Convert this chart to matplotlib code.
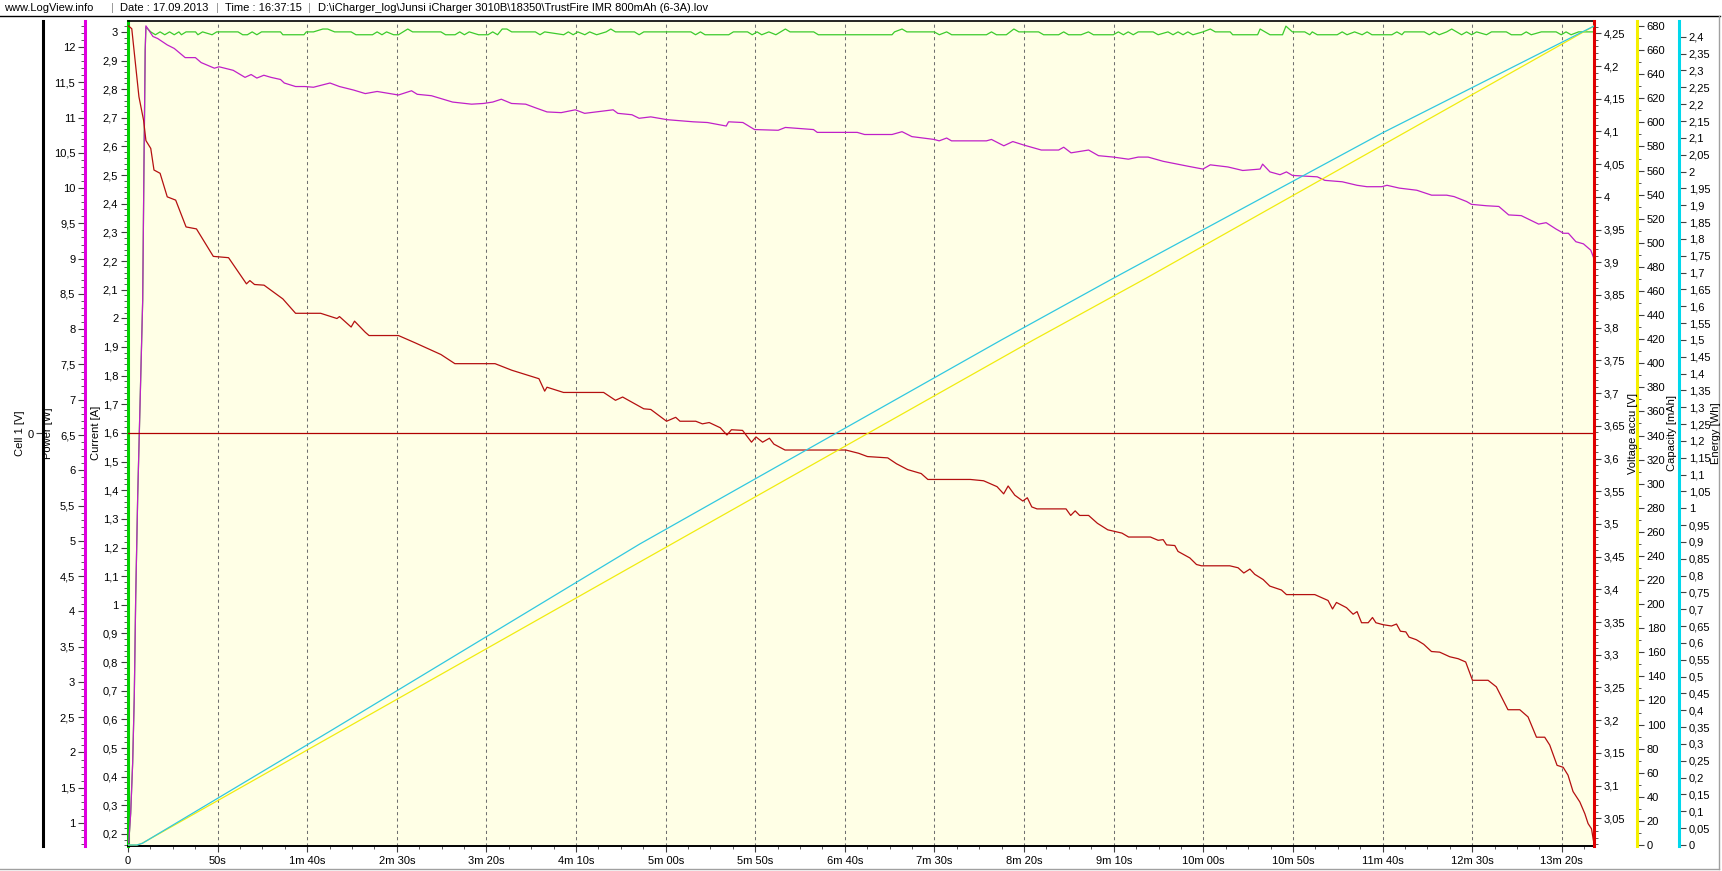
import matplotlib
matplotlib.use('Agg')
import matplotlib.pyplot as plt
from matplotlib.lines import Line2D
from matplotlib.ticker import MultipleLocator, FixedLocator, FuncFormatter

plt.rcParams['font.family'] = ['Liberation Sans', 'DejaVu Sans']

# --- data: (time [s], value) ---
voltage = [(0, 4.262), (2.1, 4.257), (6.1, 4.153), (8.7, 4.117), (10, 4.086), (12.7, 4.074),
           (14.5, 4.041), (17.9, 4.036), (21.9, 4.000), (26.6, 3.995), (32.4, 3.954), (38.2, 3.951),
           (47.6, 3.909), (56.1, 3.907), (66.1, 3.867), (68, 3.872), (70.6, 3.866), (75.9, 3.865),
           (86.4, 3.844), (93.5, 3.822), (107.5, 3.822), (116.6, 3.814), (118, 3.817), (124.5, 3.801),
           (126.4, 3.810), (132.4, 3.793), (134.5, 3.788), (150.9, 3.788), (160.1, 3.777), (174.6, 3.759),
           (182.4, 3.745), (204.8, 3.745), (214.1, 3.735), (229.3, 3.722), (232.5, 3.703), (233.8, 3.709),
           (243, 3.701), (265.4, 3.701), (272, 3.689), (276, 3.694), (287.8, 3.676), (291.7, 3.675),
           (300.5, 3.657), (305.6, 3.663), (308, 3.657), (316.8, 3.657), (320.5, 3.653), (324.3, 3.655),
           (330.5, 3.647), (334.2, 3.636), (336.7, 3.644), (342.9, 3.643), (347.9, 3.625), (350.4, 3.633),
           (354.1, 3.625), (357.9, 3.631), (360.4, 3.622), (366.6, 3.613), (400.5, 3.613), (407.7, 3.608),
           (412.6, 3.603), (423.9, 3.601), (428.8, 3.592), (435.1, 3.583), (442.6, 3.577), (446.3, 3.568),
           (470, 3.568), (477.4, 3.566), (484.9, 3.557), (488.6, 3.546), (491.1, 3.558), (494.8, 3.544),
           (499.3, 3.535), (501.8, 3.540), (504.3, 3.526), (507.2, 3.523), (523.4, 3.523), (526, 3.513),
           (528.5, 3.520), (531, 3.513), (536, 3.513), (540.9, 3.501), (546.7, 3.491), (554.6, 3.486),
           (558.3, 3.480), (570.5, 3.480), (574.8, 3.475), (577.6, 3.476), (579.5, 3.468), (584.1, 3.467),
           (585.9, 3.458), (592.5, 3.448), (596.2, 3.438), (599, 3.436), (614.8, 3.436), (619.4, 3.433),
           (622.6, 3.425), (626, 3.431), (628.7, 3.423), (633.4, 3.415), (637.1, 3.405), (643.6, 3.399),
           (646.4, 3.392), (662.2, 3.392), (669.6, 3.383), (672.1, 3.370), (674.3, 3.380), (679.9, 3.372),
           (683.6, 3.362), (685.8, 3.366), (688.3, 3.349), (692, 3.349), (694.4, 3.357), (696.3, 3.349),
           (700.3, 3.346), (705, 3.344), (707.8, 3.347), (710, 3.336), (713, 3.335), (714.8, 3.327),
           (718.9, 3.323), (723, 3.316), (727.3, 3.305), (731.9, 3.304), (737.5, 3.297), (742.2, 3.294),
           (746.4, 3.289), (750.2, 3.261), (758.9, 3.261), (763.5, 3.251), (770, 3.216), (776.6, 3.216),
           (781.2, 3.205), (785.9, 3.174), (790.5, 3.174), (793.3, 3.162), (797.4, 3.131), (800.8, 3.128),
           (803.5, 3.116), (806.3, 3.091), (810.1, 3.075), (812.9, 3.057), (814.7, 3.042), (816.6, 3.034),
           (818, 3.011)]

power = [(0.4, 0.72), (1.5, 1.14), (2.6, 1.85), (3.5, 2.79), (4.3, 4.20), (5.4, 5.62), (6.3, 6.50),
         (8.2, 8.41), (8.9, 10.30), (9.6, 11.96), (10, 12.30), (13.9, 12.15), (16.6, 12.12), (21.9, 12.03),
         (25.8, 11.98), (31.9, 11.85), (37.6, 11.85), (40.8, 11.78), (48.2, 11.70), (50.8, 11.72),
         (58.7, 11.67), (65.3, 11.57), (68.7, 11.61), (71.9, 11.56), (75.8, 11.60), (79.8, 11.57),
         (85.1, 11.54), (87.2, 11.49), (93.5, 11.44), (98.7, 11.44), (103.5, 11.43), (112.7, 11.49),
         (118, 11.44), (125.9, 11.39), (132.4, 11.34), (139, 11.37), (150.9, 11.32), (158.2, 11.38),
         (161.4, 11.33), (169.3, 11.31), (181.1, 11.22), (191.7, 11.19), (198.3, 11.20), (203.5, 11.22),
         (208.3, 11.26), (214, 11.20), (221.9, 11.19), (227.2, 11.14), (233.8, 11.08), (241.7, 11.07),
         (249.6, 11.11), (254.8, 11.06), (270.7, 11.11), (273.3, 11.06), (281.2, 11.04), (285.2, 10.99),
         (291.7, 11.01), (300.9, 10.97), (315.4, 10.94), (323.3, 10.93), (333.8, 10.88), (335.1, 10.94),
         (343.1, 10.93), (349.6, 10.83), (362.8, 10.82), (366.8, 10.86), (382.5, 10.83), (384.6, 10.79),
         (406.9, 10.79), (411, 10.76), (426.3, 10.76), (431.9, 10.80), (437.4, 10.73), (449.8, 10.69),
         (452.6, 10.67), (456.8, 10.71), (459.5, 10.67), (479, 10.67), (481.8, 10.69), (488.7, 10.60),
         (493.7, 10.66), (499.9, 10.61), (509.6, 10.54), (519.3, 10.54), (522.1, 10.58), (526.2, 10.50),
         (536, 10.54), (541.5, 10.46), (549.8, 10.44), (558.2, 10.41), (563.7, 10.44), (569.2, 10.44),
         (577.6, 10.38), (591.5, 10.31), (599.8, 10.27), (603.9, 10.33), (613.7, 10.30), (622, 10.25),
         (631.7, 10.27), (633.1, 10.34), (637.2, 10.23), (642.8, 10.19), (646.4, 10.23), (649.7, 10.18),
         (663.6, 10.16), (667.8, 10.11), (677.5, 10.09), (685.8, 10.04), (691.3, 10.02), (699.6, 10.02),
         (702.5, 10.04), (709.4, 10.00), (719.1, 9.97), (727.4, 9.90), (735.8, 9.90), (739.9, 9.88),
         (746.9, 9.81), (749.6, 9.77), (758, 9.75), (764.9, 9.74), (770.4, 9.62), (777.4, 9.61),
         (781.5, 9.56), (787.1, 9.49), (791.3, 9.51), (796.8, 9.42), (801, 9.36), (803.7, 9.36),
         (807.9, 9.24), (812.1, 9.21), (816.2, 9.12), (818, 9.00)]

current = [(0.4, 0.168), (1.5, 0.273), (2.6, 0.448), (3.5, 0.678), (4.3, 1.027), (5.4, 1.376),
           (6.3, 1.593), (8.2, 2.064), (8.9, 2.529), (9.6, 2.937), (10, 3.017), (12.7, 3.00), (15.3, 2.99),
           (17.9, 3.00), (20.5, 2.99), (23.2, 3.00), (25.8, 2.99), (28.4, 3.00), (29.8, 2.99), (32.4, 3.00),
           (37.7, 3.00), (39, 2.99), (41.6, 3.00), (46.9, 2.99), (49.5, 3.00), (61.4, 3.00), (64, 2.99),
           (66.6, 2.99), (69.3, 3.00), (71.9, 2.99), (74.5, 3.00), (85.1, 3.00), (86.4, 2.99), (98.2, 2.99),
           (99.5, 3.00), (103.5, 3.00), (108.7, 3.01), (111.4, 3.01), (115.3, 3.00), (124.5, 3.00),
           (127.2, 2.99), (136.4, 2.99), (139, 3.00), (141.7, 2.99), (144.3, 3.00), (148.2, 2.99),
           (150.9, 2.99), (153.5, 3.00), (156.1, 3.01), (158.8, 3.00), (174.6, 3.00), (177.2, 2.99),
           (182.5, 2.99), (185.1, 3.00), (187.7, 2.99), (190.4, 3.00), (195.6, 2.99), (200.9, 2.99),
           (203.5, 3.00), (206.2, 2.99), (208.8, 3.01), (211.4, 3.01), (214.1, 3.00), (227.3, 3.00),
           (229.9, 2.99), (232.5, 3.00), (243.1, 2.99), (245.7, 3.00), (248.4, 2.99), (251, 3.00),
           (254.9, 2.99), (257.6, 3.00), (261.5, 2.99), (266.8, 3.00), (269.4, 3.01), (272, 3.00),
           (282.6, 3.00), (285.2, 2.99), (287.8, 3.00), (314.1, 3.00), (316.7, 2.99), (319.4, 3.00),
           (322, 2.99), (335.2, 2.99), (337.8, 3.00), (345.7, 3.00), (348.3, 2.99), (351, 3.00),
           (353.6, 2.99), (357.6, 3.00), (361.5, 2.99), (366.8, 3.01), (369.4, 3.00), (382.6, 3.00),
           (385.2, 2.99), (426.3, 2.99), (427.7, 3.00), (431.9, 3.01), (434.6, 3.00), (449.9, 3.00),
           (452.7, 2.99), (456.8, 3.00), (459.6, 2.99), (479, 2.99), (481.8, 3.00), (484.6, 2.99),
           (490.1, 2.99), (494.3, 3.01), (497.1, 3.00), (508.1, 3.00), (510.9, 2.99), (519.3, 2.99),
           (522.1, 3.00), (524.8, 2.99), (531.8, 2.99), (535.9, 3.00), (538.7, 2.99), (549.8, 2.99),
           (552.6, 3.00), (555.4, 2.99), (558.1, 3.00), (560.9, 2.99), (563.7, 3.00), (572, 3.00),
           (574.8, 2.99), (580.3, 3.00), (583.1, 2.99), (585.9, 3.00), (588.7, 2.99), (591.4, 3.00),
           (594.2, 2.99), (599.8, 3.00), (603.9, 3.01), (606.7, 3.00), (615, 3.00), (616.4, 2.99),
           (630.3, 2.99), (631.7, 3.01), (634.5, 3.00), (637.2, 2.99), (644.2, 2.99), (646.1, 3.02),
           (649.7, 3.00), (656.6, 3.00), (659.4, 2.99), (660.8, 3.00), (663.6, 2.99), (674.7, 2.99),
           (677.5, 3.00), (680.2, 2.99), (684.4, 3.00), (688.6, 2.99), (691.4, 3.00), (694.1, 2.99),
           (705.2, 2.99), (708, 3.00), (710.8, 2.99), (712.2, 3.00), (723.3, 3.00), (726.1, 2.99),
           (728.8, 3.00), (731.6, 2.99), (735.8, 3.00), (738.6, 3.01), (741.3, 3.00), (744.1, 2.99),
           (746.9, 3.00), (749.7, 2.99), (752.5, 3.00), (758, 2.99), (760.8, 3.00), (769.1, 3.00),
           (771.9, 2.99), (777.5, 2.99), (780.2, 3.00), (783, 2.99), (788.6, 3.00), (796.9, 3.00),
           (799.7, 2.99), (802.4, 3.00), (805.2, 2.99), (809.4, 3.00), (818, 3.00)]

capacity = [(0, 0), (5, 0), (8, 1.5), (285.6, 235), (504.8, 419), (567.9, 470.5), (818, 680)]
energy = [(0, 0), (5, 0), (8, 0.005), (112.4, 0.337), (285.6, 0.894), (487.4, 1.50),
          (549.8, 1.683), (699.7, 2.114), (818, 2.432)]
cell1 = [(0, 0.0), (818, 0.0)]

header_parts = ["www.LogView.info", "|", "Date : 17.09.2013", "|", "Time : 16:37:15", "|",
                r"D:\iCharger_log\Junsi iCharger 3010B\18350\TrustFire IMR 800mAh (6-3A).lov"]


def comma(v, pos=None):
    s = f'{v:.3f}'.rstrip('0').rstrip('.')
    if s == '-0':
        s = '0'
    return s.replace('.', ',')


def hms(v, pos=None):
    s = int(round(v))
    if s == 0:
        return '0'
    m, sec = divmod(s, 60)
    return f'{sec}s' if m == 0 else f'{m}m {sec:02d}s'


W, H = 1722, 871
L, R, T, B = 128, 1594, 21, 846
span = R - L
FS = 8

fig = plt.figure(figsize=(W / 100, H / 100), dpi=100)
ax = fig.add_axes([L / W, 1 - B / H, span / W, (B - T) / H])
ax.set_facecolor('#FFFFE6')


def style_y(a, side, px, color, ylim, major, minor=None):
    a.set_ylim(*ylim)
    sp = a.spines[side]
    sp.set_visible(True)
    sp.set_color(color)
    sp.set_linewidth(2.2)
    sp.set_position(('axes', (px - L) / span))
    for k in ('left', 'right', 'top', 'bottom'):
        if k != side and a is not ax:
            a.spines[k].set_visible(False)
    if side == 'left':
        a.yaxis.tick_left()
    else:
        a.yaxis.tick_right()
    a.yaxis.set_major_locator(major)
    if minor is not None:
        a.yaxis.set_minor_locator(minor)
    a.yaxis.set_major_formatter(FuncFormatter(comma))
    a.tick_params(axis='y', which='major', direction='out', length=5, width=0.8,
                  color='#404040', labelsize=FS, pad=2)
    a.tick_params(axis='y', which='minor', direction='out', length=3, width=0.6, color='#404040')


# current axis (host)
ax.spines['right'].set_visible(False)
ax.spines['top'].set_color('black')
ax.spines['top'].set_linewidth(1.2)
ax.spines['bottom'].set_color('black')
ax.spines['bottom'].set_linewidth(1.4)
style_y(ax, 'left', 128, '#00D000', (0.158, 3.038), MultipleLocator(0.1), MultipleLocator(0.02))

ax_p = ax.twinx()
style_y(ax_p, 'left', 85, '#E000E0', (0.674, 12.369), MultipleLocator(0.5), MultipleLocator(0.1))
ax_c = ax.twinx()
style_y(ax_c, 'left', 43, 'black', (-1.0, 1.0), FixedLocator([0]))
ax_v = ax.twinx()
style_y(ax_v, 'right', 1594, '#E00000', (3.0077, 4.2688), MultipleLocator(0.05), MultipleLocator(0.01))
ax_q = ax.twinx()
style_y(ax_q, 'right', 1637, '#F5F000', (-0.83, 684.2), MultipleLocator(20), MultipleLocator(10))
ax_e = ax.twinx()
style_y(ax_e, 'right', 1679, '#00D8EC', (-0.003, 2.447), MultipleLocator(0.05))

# x axis
ax.set_xlim(0, 818)
ax.xaxis.set_major_locator(MultipleLocator(50))
ax.xaxis.set_minor_locator(MultipleLocator(12.5))
ax.xaxis.set_major_formatter(FuncFormatter(hms))
ax.tick_params(axis='x', which='major', direction='out', length=4, width=0.8,
               color='#404040', labelsize=FS, pad=3)
ax.tick_params(axis='x', which='minor', direction='out', length=2.5, width=0.6, color='#404040')
ax.grid(axis='x', which='major', color='#707070', linestyle=(0, (3, 3)), linewidth=0.75)

lw = 0.9
ax.plot(*zip(*current), color='#3CCB2C', lw=lw)
ax_p.plot(*zip(*power), color='#C020C8', lw=lw)
ax_q.plot(*zip(*capacity), color='#F0EC10', lw=lw)
ax_e.plot(*zip(*energy), color='#30C8E0', lw=lw)
ax_c.plot(*zip(*cell1), color='#B00000', lw=lw)
ax_v.plot(*zip(*voltage), color='#B41010', lw=lw)

# axis titles
yc = 1 - 433 / H
for x, txt in [(20, 'Cell 1 [V]'), (48, 'Power [W]'), (96, 'Current [A]'),
               (1633, 'Voltage accu [V]'), (1672, 'Capacity [mAh]'), (1716, 'Energy [Wh]')]:
    fig.text(x / W, yc, txt, rotation=90, ha='center', va='center', fontsize=FS)

# header line
hx = [4, 111, 120, 216, 225, 308, 318]
for x, txt in zip(hx, header_parts):
    fig.text(x / W, 1 - 8 / H, txt, ha='left', va='center', fontsize=FS,
             color='#909090' if txt == '|' else 'black')

fig.add_artist(Line2D([0, 1720 / W], [1 - 16 / H, 1 - 16 / H], color='black', lw=1.0))
fig.add_artist(Line2D([1719 / W, 1719 / W], [1 - 16 / H, 1 - 869 / H], color='#A0A0A0', lw=1.0))
fig.add_artist(Line2D([0, 1719 / W], [1 - 869 / H, 1 - 869 / H], color='#A0A0A0', lw=1.0))

fig.savefig('out.png', dpi=100, facecolor='white')
